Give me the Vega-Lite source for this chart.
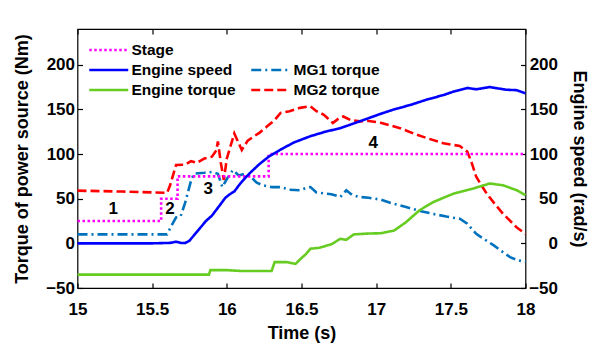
{
  "$schema": "https://vega.github.io/schema/vega-lite/v6.json",
  "width": 448,
  "height": 259,
  "autosize": "none",
  "padding": {"left": 77.5, "top": 29, "right": 65.5, "bottom": 58},
  "config": {
    "font": "Liberation Sans",
    "view": {"stroke": "#000", "strokeWidth": 1.2},
    "axis": {
      "grid": false,
      "domain": false,
      "tickColor": "#000",
      "tickSize": -5,
      "tickWidth": 1.2,
      "labelFlush": false,
      "labelOverlap": false,
      "labelFont": "Liberation Sans",
      "labelFontWeight": "bold",
      "labelFontSize": 17,
      "labelColor": "#000",
      "titleFont": "Liberation Sans",
      "titleFontWeight": "bold",
      "titleFontSize": 18,
      "titleColor": "#000"
    },
    "legend": {
      "labelFont": "Liberation Sans",
      "labelFontWeight": "bold",
      "labelFontSize": 15.5,
      "labelColor": "#000",
      "symbolType": "M-2,0H2",
      "symbolSize": 380,
      "symbolStrokeWidth": 2.5,
      "labelOffset": 11.75,
      "rowPadding": 0,
      "padding": 0,
      "orient": "none"
    }
  },
  "datasets": {
    "a": [
      {"series": "Stage", "t": 15, "v": 25},
      {"series": "Stage", "t": 15.56, "v": 25},
      {"series": "Stage", "t": 15.56, "v": 50},
      {"series": "Stage", "t": 15.67, "v": 50},
      {"series": "Stage", "t": 15.67, "v": 75},
      {"series": "Stage", "t": 16.28, "v": 75},
      {"series": "Stage", "t": 16.28, "v": 100},
      {"series": "Stage", "t": 18, "v": 100},
      {"series": "Engine speed", "t": 15, "v": 0},
      {"series": "Engine speed", "t": 15.5, "v": 0},
      {"series": "Engine speed", "t": 15.62, "v": 0.5},
      {"series": "Engine speed", "t": 15.66, "v": 1.8},
      {"series": "Engine speed", "t": 15.69, "v": 0.5},
      {"series": "Engine speed", "t": 15.72, "v": 0.3},
      {"series": "Engine speed", "t": 15.75, "v": 3},
      {"series": "Engine speed", "t": 15.79, "v": 11},
      {"series": "Engine speed", "t": 15.82, "v": 17},
      {"series": "Engine speed", "t": 15.86, "v": 25},
      {"series": "Engine speed", "t": 15.9, "v": 31},
      {"series": "Engine speed", "t": 15.95, "v": 42},
      {"series": "Engine speed", "t": 15.99, "v": 51},
      {"series": "Engine speed", "t": 16.02, "v": 55},
      {"series": "Engine speed", "t": 16.05, "v": 58},
      {"series": "Engine speed", "t": 16.09, "v": 67},
      {"series": "Engine speed", "t": 16.15, "v": 78},
      {"series": "Engine speed", "t": 16.22, "v": 89},
      {"series": "Engine speed", "t": 16.28, "v": 97},
      {"series": "Engine speed", "t": 16.36, "v": 105},
      {"series": "Engine speed", "t": 16.45, "v": 113},
      {"series": "Engine speed", "t": 16.56, "v": 120},
      {"series": "Engine speed", "t": 16.66, "v": 125},
      {"series": "Engine speed", "t": 16.76, "v": 129},
      {"series": "Engine speed", "t": 16.89, "v": 136.6},
      {"series": "Engine speed", "t": 17.03, "v": 145},
      {"series": "Engine speed", "t": 17.12, "v": 150},
      {"series": "Engine speed", "t": 17.23, "v": 155},
      {"series": "Engine speed", "t": 17.34, "v": 161},
      {"series": "Engine speed", "t": 17.45, "v": 166},
      {"series": "Engine speed", "t": 17.52, "v": 170},
      {"series": "Engine speed", "t": 17.61, "v": 174},
      {"series": "Engine speed", "t": 17.67, "v": 172.5},
      {"series": "Engine speed", "t": 17.76, "v": 175},
      {"series": "Engine speed", "t": 17.87, "v": 172},
      {"series": "Engine speed", "t": 17.94, "v": 171.5},
      {"series": "Engine speed", "t": 18, "v": 168},
      {"series": "Engine torque", "t": 15, "v": -35},
      {"series": "Engine torque", "t": 15.88, "v": -35},
      {"series": "Engine torque", "t": 15.89, "v": -30},
      {"series": "Engine torque", "t": 16.0, "v": -30},
      {"series": "Engine torque", "t": 16.1, "v": -31},
      {"series": "Engine torque", "t": 16.2, "v": -31},
      {"series": "Engine torque", "t": 16.3, "v": -31},
      {"series": "Engine torque", "t": 16.32, "v": -21},
      {"series": "Engine torque", "t": 16.4, "v": -21},
      {"series": "Engine torque", "t": 16.46, "v": -23},
      {"series": "Engine torque", "t": 16.49, "v": -18},
      {"series": "Engine torque", "t": 16.53, "v": -12},
      {"series": "Engine torque", "t": 16.56, "v": -6},
      {"series": "Engine torque", "t": 16.62, "v": -5},
      {"series": "Engine torque", "t": 16.7, "v": -1},
      {"series": "Engine torque", "t": 16.76, "v": 5},
      {"series": "Engine torque", "t": 16.8, "v": 4},
      {"series": "Engine torque", "t": 16.85, "v": 10},
      {"series": "Engine torque", "t": 16.95, "v": 11},
      {"series": "Engine torque", "t": 17.03, "v": 11.3},
      {"series": "Engine torque", "t": 17.12, "v": 14.3},
      {"series": "Engine torque", "t": 17.2, "v": 23.7},
      {"series": "Engine torque", "t": 17.29, "v": 37},
      {"series": "Engine torque", "t": 17.38, "v": 46},
      {"series": "Engine torque", "t": 17.45, "v": 51},
      {"series": "Engine torque", "t": 17.52, "v": 55.7},
      {"series": "Engine torque", "t": 17.65, "v": 61.4},
      {"series": "Engine torque", "t": 17.76, "v": 67},
      {"series": "Engine torque", "t": 17.85, "v": 65},
      {"series": "Engine torque", "t": 17.94, "v": 59.5},
      {"series": "Engine torque", "t": 18, "v": 54}
    ],
    "b": [
      {"series": "MG1 torque", "t": 15, "v": 10},
      {"series": "MG1 torque", "t": 15.6, "v": 10},
      {"series": "MG1 torque", "t": 15.63, "v": 20},
      {"series": "MG1 torque", "t": 15.66, "v": 29},
      {"series": "MG1 torque", "t": 15.69, "v": 30},
      {"series": "MG1 torque", "t": 15.72, "v": 45},
      {"series": "MG1 torque", "t": 15.76, "v": 70},
      {"series": "MG1 torque", "t": 15.78, "v": 78},
      {"series": "MG1 torque", "t": 15.85, "v": 79},
      {"series": "MG1 torque", "t": 15.9, "v": 80},
      {"series": "MG1 torque", "t": 15.94, "v": 78},
      {"series": "MG1 torque", "t": 15.97, "v": 63},
      {"series": "MG1 torque", "t": 16.0, "v": 72},
      {"series": "MG1 torque", "t": 16.04, "v": 82},
      {"series": "MG1 torque", "t": 16.08, "v": 76},
      {"series": "MG1 torque", "t": 16.12, "v": 78},
      {"series": "MG1 torque", "t": 16.16, "v": 74.5},
      {"series": "MG1 torque", "t": 16.2, "v": 68},
      {"series": "MG1 torque", "t": 16.24, "v": 65},
      {"series": "MG1 torque", "t": 16.3, "v": 63},
      {"series": "MG1 torque", "t": 16.36, "v": 63},
      {"series": "MG1 torque", "t": 16.42, "v": 60},
      {"series": "MG1 torque", "t": 16.49, "v": 59.5},
      {"series": "MG1 torque", "t": 16.53, "v": 62},
      {"series": "MG1 torque", "t": 16.56, "v": 63},
      {"series": "MG1 torque", "t": 16.6, "v": 57},
      {"series": "MG1 torque", "t": 16.65, "v": 56},
      {"series": "MG1 torque", "t": 16.7, "v": 55},
      {"series": "MG1 torque", "t": 16.76, "v": 52},
      {"series": "MG1 torque", "t": 16.8, "v": 59.5},
      {"series": "MG1 torque", "t": 16.84, "v": 54},
      {"series": "MG1 torque", "t": 16.89, "v": 52},
      {"series": "MG1 torque", "t": 16.95, "v": 51},
      {"series": "MG1 torque", "t": 17.03, "v": 49},
      {"series": "MG1 torque", "t": 17.1, "v": 45},
      {"series": "MG1 torque", "t": 17.2, "v": 40.6},
      {"series": "MG1 torque", "t": 17.3, "v": 36},
      {"series": "MG1 torque", "t": 17.38, "v": 33},
      {"series": "MG1 torque", "t": 17.47, "v": 30},
      {"series": "MG1 torque", "t": 17.56, "v": 27.5},
      {"series": "MG1 torque", "t": 17.61, "v": 22},
      {"series": "MG1 torque", "t": 17.67, "v": 10.6},
      {"series": "MG1 torque", "t": 17.73, "v": 4},
      {"series": "MG1 torque", "t": 17.79, "v": -2.6},
      {"series": "MG1 torque", "t": 17.85, "v": -10},
      {"series": "MG1 torque", "t": 17.9, "v": -15.8},
      {"series": "MG1 torque", "t": 17.95, "v": -19},
      {"series": "MG1 torque", "t": 18, "v": -20.6},
      {"series": "MG2 torque", "t": 15, "v": 59},
      {"series": "MG2 torque", "t": 15.3, "v": 58},
      {"series": "MG2 torque", "t": 15.6, "v": 56.5},
      {"series": "MG2 torque", "t": 15.62, "v": 65},
      {"series": "MG2 torque", "t": 15.66, "v": 87.7},
      {"series": "MG2 torque", "t": 15.72, "v": 88},
      {"series": "MG2 torque", "t": 15.76, "v": 92},
      {"series": "MG2 torque", "t": 15.8, "v": 90},
      {"series": "MG2 torque", "t": 15.85, "v": 95},
      {"series": "MG2 torque", "t": 15.9, "v": 97},
      {"series": "MG2 torque", "t": 15.93, "v": 104},
      {"series": "MG2 torque", "t": 15.94, "v": 114},
      {"series": "MG2 torque", "t": 15.96, "v": 90},
      {"series": "MG2 torque", "t": 15.98, "v": 71},
      {"series": "MG2 torque", "t": 16.0, "v": 95},
      {"series": "MG2 torque", "t": 16.05, "v": 123},
      {"series": "MG2 torque", "t": 16.1, "v": 104.6},
      {"series": "MG2 torque", "t": 16.14, "v": 115},
      {"series": "MG2 torque", "t": 16.18, "v": 119.6},
      {"series": "MG2 torque", "t": 16.22, "v": 124},
      {"series": "MG2 torque", "t": 16.27, "v": 131},
      {"series": "MG2 torque", "t": 16.32, "v": 138},
      {"series": "MG2 torque", "t": 16.36, "v": 146},
      {"series": "MG2 torque", "t": 16.42, "v": 148},
      {"series": "MG2 torque", "t": 16.49, "v": 151.7},
      {"series": "MG2 torque", "t": 16.56, "v": 153.5},
      {"series": "MG2 torque", "t": 16.6, "v": 148},
      {"series": "MG2 torque", "t": 16.65, "v": 144},
      {"series": "MG2 torque", "t": 16.71, "v": 134.8},
      {"series": "MG2 torque", "t": 16.75, "v": 140},
      {"series": "MG2 torque", "t": 16.78, "v": 142},
      {"series": "MG2 torque", "t": 16.83, "v": 138},
      {"series": "MG2 torque", "t": 16.89, "v": 136.6},
      {"series": "MG2 torque", "t": 16.95, "v": 137},
      {"series": "MG2 torque", "t": 17.03, "v": 135},
      {"series": "MG2 torque", "t": 17.16, "v": 129},
      {"series": "MG2 torque", "t": 17.25, "v": 123},
      {"series": "MG2 torque", "t": 17.34, "v": 117.8},
      {"series": "MG2 torque", "t": 17.45, "v": 112},
      {"series": "MG2 torque", "t": 17.56, "v": 109},
      {"series": "MG2 torque", "t": 17.61, "v": 102.7},
      {"series": "MG2 torque", "t": 17.64, "v": 90},
      {"series": "MG2 torque", "t": 17.67, "v": 74.5},
      {"series": "MG2 torque", "t": 17.74, "v": 55.7},
      {"series": "MG2 torque", "t": 17.8, "v": 43},
      {"series": "MG2 torque", "t": 17.85, "v": 33},
      {"series": "MG2 torque", "t": 17.94, "v": 18},
      {"series": "MG2 torque", "t": 18, "v": 10.6}
    ],
    "labels": [
      {"t": 15.24, "v": 39, "label": "1"},
      {"t": 15.62, "v": 39, "label": "2"},
      {"t": 15.876, "v": 61.4, "label": "3"},
      {"t": 16.98, "v": 112, "label": "4"}
    ]
  },
  "layer": [
    {
      "layer": [
        {
          "data": {"name": "b"},
          "mark": {"type": "line", "strokeWidth": 2.6},
          "encoding": {
            "x": {"field": "t", "type": "quantitative", "scale": {"domain": [15, 18], "nice": false},
                  "axis": {"orient": "bottom", "values": [15, 15.5, 16, 16.5, 17, 17.5, 18], "format": "~g", "title": "Time (s)", "labelPadding": 18, "titlePadding": 7}},
            "y": {"field": "v", "type": "quantitative", "scale": {"domain": [-50, 240], "nice": false, "zero": false},
                  "axis": {"orient": "left", "values": [-50, 0, 50, 100, 150, 200], "title": "Torque of power source (Nm)", "labelPadding": 8, "titlePadding": 14}},
            "color": {"field": "series", "type": "nominal",
                      "scale": {"domain": ["MG1 torque", "MG2 torque"], "range": ["#0072BD", "#FF0000"]},
                      "legend": {"title": null, "legendX": 182.25, "legendY": 30}},
            "strokeDash": {"field": "series", "type": "nominal",
                      "scale": {"domain": ["MG1 torque", "MG2 torque"], "range": [[10, 4, 2, 4], [9, 4]]},
                      "legend": {"title": null, "legendX": 182.25, "legendY": 30}},
            "order": {"value": null}
          }
        },
        {
          "data": {"name": "a"},
          "mark": {"type": "line", "strokeWidth": 2.6},
          "encoding": {
            "x": {"field": "t", "type": "quantitative"},
            "y": {"field": "v", "type": "quantitative"},
            "color": {"field": "series", "type": "nominal",
                      "scale": {"domain": ["Stage", "Engine speed", "Engine torque"], "range": ["#FF00FF", "#0000FF", "#66CC22"]},
                      "legend": {"title": null, "legendX": 20.25, "legendY": 10}},
            "strokeDash": {"field": "series", "type": "nominal",
                      "scale": {"domain": ["Stage", "Engine speed", "Engine torque"], "range": [[2.5, 2.5], [1, 0], [1, 0]]},
                      "legend": {"title": null, "legendX": 20.25, "legendY": 10}},
            "order": {"value": null}
          }
        }
      ],
      "resolve": {"scale": {"color": "independent", "strokeDash": "independent"}}
    },
    {
      "data": {"name": "labels"},
      "mark": {"type": "text", "fontSize": 17, "fontWeight": "bold", "color": "#000", "font": "Liberation Sans"},
      "encoding": {
        "x": {"field": "t", "type": "quantitative", "scale": {"domain": [15, 18], "nice": false},
              "axis": {"orient": "top", "values": [15, 15.5, 16, 16.5, 17, 17.5, 18], "labels": false, "title": null}},
        "y": {"field": "v", "type": "quantitative", "scale": {"domain": [-50, 240], "nice": false, "zero": false},
              "axis": {"orient": "right", "values": [-50, 0, 50, 100, 150, 200], "title": "Engine speed (rad/s)", "labelAlign": "right", "labelPadding": 37, "titlePadding": 12}},
        "text": {"field": "label", "type": "nominal"}
      }
    }
  ],
  "resolve": {"scale": {"x": "independent", "y": "independent"}}
}
